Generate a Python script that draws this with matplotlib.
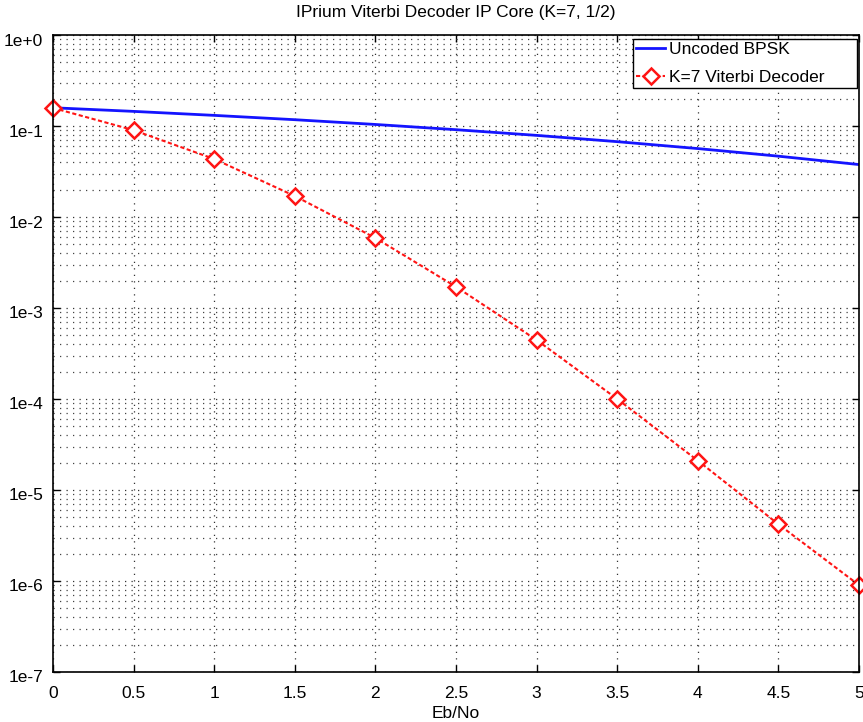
import matplotlib
matplotlib.use('Agg')
import matplotlib.pyplot as plt
from matplotlib.ticker import LogLocator
from matplotlib.transforms import ScaledTranslation

plt.rcParams['font.family'] = ['Liberation Sans', 'DejaVu Sans']

# Eb/No axis
ebno = [0, 0.5, 1, 1.5, 2, 2.5, 3, 3.5, 4, 4.5, 5]
# uncoded BPSK BER
ber_uncoded = [0.1587, 0.1448, 0.1309, 0.1173, 0.1040, 0.0911,
               0.0789, 0.0673, 0.0565, 0.0466, 0.0377]
# K=7 viterbi decoder BER
ber_viterbi = [0.158, 0.090, 0.0434, 0.0170, 5.88e-3, 1.71e-3,
               4.45e-4, 1.0e-4, 2.1e-5, 4.2e-6, 9.0e-7]

x_ticks = [0, 0.5, 1, 1.5, 2, 2.5, 3, 3.5, 4, 4.5, 5]
x_labels = ['0', '0.5', '1', '1.5', '2', '2.5', '3', '3.5', '4', '4.5', '5']
y_ticks = [1e0, 1e-1, 1e-2, 1e-3, 1e-4, 1e-5, 1e-6, 1e-7]
y_labels = ['1e+0', '1e-1', '1e-2', '1e-3', '1e-4', '1e-5', '1e-6', '1e-7']

fs = 12.5

fig = plt.figure(figsize=(8.63, 7.22), dpi=100)
ax = fig.add_axes([0.0614, 0.0693, 0.934, 0.8822])

ax.semilogy(ebno, ber_uncoded, '-', color='#1414ff', lw=2, label='Uncoded BPSK')
ax.semilogy(ebno, ber_viterbi, '--', color='#ff1414', lw=1.5, dashes=(2, 1.2),
            marker='D', markersize=8, markerfacecolor='white',
            markeredgecolor='#ff1414', markeredgewidth=1.8, clip_on=False,
            label='K=7 Viterbi Decoder')

ax.set_xlim(0, 5)
ax.set_ylim(1e-7, 1e0)
ax.set_xticks(x_ticks)
ax.set_xticklabels(x_labels)
ax.set_yticks(y_ticks)
ax.set_yticklabels(y_labels)
ax.yaxis.set_minor_locator(LogLocator(base=10, subs=range(2, 10), numticks=20))

ax.grid(True, which='major', ls=(0, (1, 4.2)), color='#333333', lw=0.9)
ax.grid(True, which='minor', axis='y', ls=(0, (1, 4.2)), color='#444444', lw=0.9)
ax.tick_params(which='major', direction='in', length=5, top=True, right=True,
               labelsize=fs, width=1)
ax.tick_params(axis='x', pad=10)
ax.tick_params(axis='y', pad=7)
ax.tick_params(which='minor', length=0)
for s in ax.spines.values():
    s.set_linewidth(1.2)

# y labels sit a little below their ticks
shift = ScaledTranslation(0, -0.045, fig.dpi_scale_trans)
for lab in ax.get_yticklabels():
    lab.set_transform(lab.get_transform() + shift)

ax.set_title('IPrium Viterbi Decoder IP Core (K=7, 1/2)', fontsize=fs, pad=13)
ax.set_xlabel('Eb/No', fontsize=fs, labelpad=4)

leg = ax.legend(loc='upper left', bbox_to_anchor=(0.7196, 0, 0.278, 0.9937),
                mode='expand', fontsize=fs, fancybox=False, framealpha=1,
                edgecolor='black', borderpad=0.17, handlelength=1.7,
                handletextpad=0.2, borderaxespad=0, labelspacing=0.74)
leg.get_frame().set_linewidth(1)

fig.savefig('out.png', dpi=100)
